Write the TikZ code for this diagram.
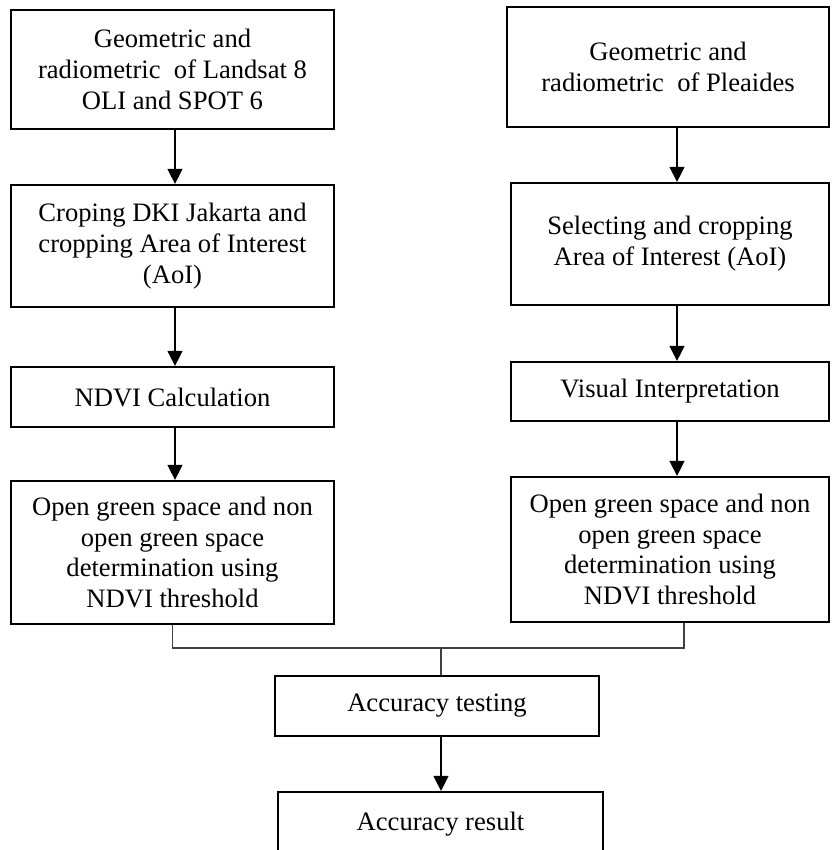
\documentclass[tikz,border=0pt]{standalone}
\usepackage{fontspec}
\setmainfont{Liberation Serif}
\usetikzlibrary{arrows.meta}
\tikzset{
  stepbox/.style={draw, line width=1.1pt, inner sep=0pt, align=center,
    font=\fontsize{13.3}{15.4}\selectfont},
  flow/.style={line width=0.55pt, -{Triangle[width=7.5pt,length=7.5pt]}},
  joinline/.style={line width=0.55pt, draw=black!75},
}
\begin{document}
\begin{tikzpicture}[x=0.5pt,y=-0.5pt]
  \clip (0,0) rectangle (831,850);

  % Left column (Landsat 8 / SPOT 6)
  \node[stepbox, minimum width=161.5pt, minimum height=59.5pt] (geoL) at (172.5,69.5)
    {Geometric and\\radiometric~ of Landsat 8\\OLI and SPOT 6};
  \node[stepbox, minimum width=161.5pt, minimum height=61pt] (cropL) at (172.5,246)
    {Croping DKI Jakarta and\\cropping Area of Interest\\(AoI)};
  \node[stepbox, minimum width=161.5pt, minimum height=30pt] (ndvi) at (172.5,397)
    {NDVI Calculation};
  \node[stepbox, minimum width=161.5pt, minimum height=71.5pt] (ogsL) at (172.5,552.5)
    {Open green space and non\\open green space\\determination using\\NDVI threshold};

  % Right column (Pleaides)
  \node[stepbox, minimum width=161pt, minimum height=60pt] (geoR) at (668,67)
    {Geometric and\\radiometric~ of Pleaides};
  \node[stepbox, minimum width=159pt, minimum height=61pt] (cropR) at (670,244)
    {Selecting and cropping\\Area of Interest (AoI)};
  \node[stepbox, minimum width=159pt, minimum height=29.5pt] (visual) at (670,391.5)
    {Visual Interpretation};
  \node[stepbox, minimum width=159pt, minimum height=72.5pt] (ogsR) at (670,549.5)
    {Open green space and non\\open green space\\determination using\\NDVI threshold};

  % Bottom part
  \node[stepbox, minimum width=162pt, minimum height=30pt] (test) at (437,706)
    {Accuracy testing};
  \node[stepbox, minimum width=162.5pt, minimum height=32pt] (result) at (440.5,824)
    {Accuracy result};

  % Connector columns
  \coordinate (lx) at (175,0);
  \coordinate (rx) at (677,0);
  \coordinate (jr) at (684,0);
  \coordinate (j) at (441,648);

  % Drawing arrows left
  \draw[flow] (geoL.south -| lx) -- (cropL.north -| lx);
  \draw[flow] (cropL.south -| lx) -- (ndvi.north -| lx);
  \draw[flow] (ndvi.south -| lx) -- (ogsL.north -| lx);

  % Drawing arrows right
  \draw[flow] (geoR.south -| rx) -- (cropR.north -| rx);
  \draw[flow] (cropR.south -| rx) -- (visual.north -| rx);
  \draw[flow] (visual.south -| rx) -- (ogsR.north -| rx);

  % Drawing join to accuracy testing
  \draw[joinline] (ogsL.south) |- (j) -| (ogsR.south -| jr);
  \draw[joinline] (j) -- (j |- test.north);

  % Drawing arrow to result
  \draw[flow] (test.south -| j) -- (result.north -| j);
\end{tikzpicture}
\end{document}
